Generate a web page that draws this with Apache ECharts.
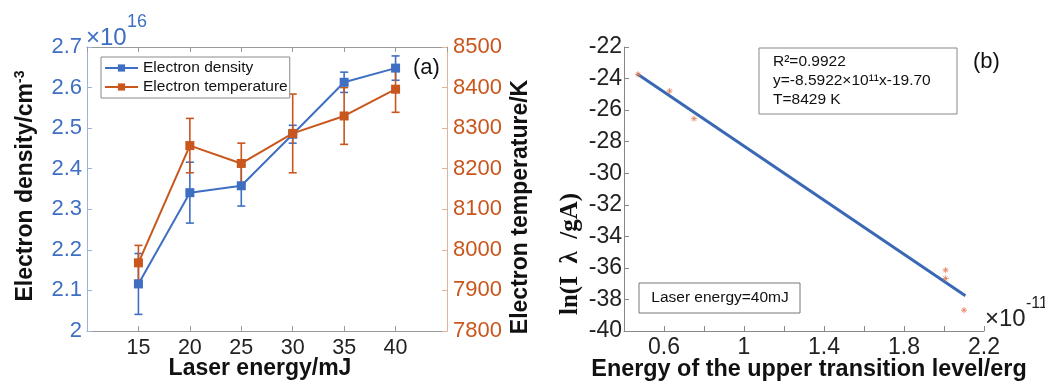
<!DOCTYPE html>
<html>
<head>
<meta charset="utf-8">
<script src="https://cdn.jsdelivr.net/npm/echarts@6/dist/echarts.min.js"></script>
<style>html,body{margin:0;padding:0;background:#fff}#c{width:1045px;height:381px}</style>
</head>
<body>
<div id="c"></div>
<script>
// Panel (a)
const energies = [15, 20, 25, 30, 35, 40];
const density = [2.116, 2.341, 2.358, 2.485, 2.613, 2.648];      // ×10^16 cm^-3
const densityErr = [0.075, 0.075, 0.05, 0.022, 0.025, 0.03];
const temperature = [7968, 8257, 8213, 8287, 8330, 8396];       // K
const temperatureErr = [43, 67, 50, 97, 70, 57];
// Panel (b)
const upperEnergy = [0.47, 0.628, 0.75, 2.008, 2.008, 2.10];      // ×10^-11 erg
const lnIntensity = [-23.73, -24.79, -26.54, -36.14, -36.67, -38.68];
const fitX = [0.465, 2.107];
const fitY = [-23.70, -37.76];

const BLUE = '#3F6FC3';
const ORANGE = '#C9561C';
const FONT = 'Liberation Sans, Arial, sans-serif';

function errItem(color) {
  return function (params, api) {
    const x = api.value(0), lo = api.value(1), hi = api.value(2);
    const a = api.coord([x, hi]), b = api.coord([x, lo]);
    const w = 4;
    const st = { stroke: color, lineWidth: 1.6 };
    return { type: 'group', children: [
      { type: 'line', shape: { x1: a[0], y1: a[1], x2: b[0], y2: b[1] }, style: st },
      { type: 'line', shape: { x1: a[0] - w, y1: a[1], x2: a[0] + w, y2: a[1] }, style: st },
      { type: 'line', shape: { x1: b[0] - w, y1: b[1], x2: b[0] + w, y2: b[1] }, style: st }
    ]};
  };
}

const densityErrData = energies.map((e, i) => [e, density[i] - densityErr[i], density[i] + densityErr[i]]);
const tempErrData = energies.map((e, i) => [e, temperature[i] - temperatureErr[i], temperature[i] + temperatureErr[i]]);

const chart = echarts.init(document.getElementById('c'), null, { renderer: 'canvas' });
const tickInside = (c) => ({ show: true, inside: true, length: 5, lineStyle: { color: c, width: 1 } });

chart.setOption({
  animation: false,
  backgroundColor: '#fff',
  textStyle: { fontFamily: FONT },
  grid: [
    { left: 87, top: 47, width: 360, height: 284 },
    { left: 624, top: 47, width: 360, height: 284 }
  ],
  legend: {
    data: ['Electron density', 'Electron temperature'],
    orient: 'vertical', left: 101, top: 57,
    itemWidth: 33, itemHeight: 9, itemGap: 3,
    padding: [3, 2, 3, 3],
    borderColor: '#8a8a8a', borderWidth: 1, backgroundColor: '#fff',
    textStyle: { fontFamily: FONT, fontSize: 15.5, color: '#111' }
  },
  xAxis: [
    { gridIndex: 0, type: 'value', min: 10, max: 45, interval: 5, position: 'bottom',
      axisLine: { lineStyle: { color: '#9a9a9a' } }, axisTick: tickInside('#9a9a9a'),
      axisLabel: { color: '#222', fontSize: 21.5, fontFamily: FONT, margin: 6, showMinLabel: false, showMaxLabel: false },
      splitLine: { show: false } },
    { gridIndex: 0, type: 'value', min: 10, max: 45, interval: 5, position: 'top',
      axisLine: { lineStyle: { color: '#9a9a9a' } }, axisTick: tickInside('#9a9a9a'),
      axisLabel: { show: false }, splitLine: { show: false } },
    { gridIndex: 1, type: 'value', min: 0.4, max: 2.2, interval: 0.2, position: 'bottom',
      axisLine: { lineStyle: { color: '#888' } }, axisTick: tickInside('#888'),
      axisLabel: { color: '#222', fontSize: 23, fontFamily: FONT, margin: 5,
        formatter: v => { const k = Math.round(v * 10); return (k % 4 === 2) ? String(k / 10) : ''; } },
      splitLine: { show: false } }
  ],
  yAxis: [
    { gridIndex: 0, type: 'value', min: 2.0, max: 2.7, interval: 0.1, position: 'left',
      axisLine: { show: true, lineStyle: { color: '#9bb2dd' } }, axisTick: tickInside('#9bb2dd'),
      axisLabel: { color: BLUE, fontSize: 22, fontFamily: FONT, margin: 5,
        formatter: v => Math.abs(v - 2) < 1e-9 ? '2' : v.toFixed(1) },
      splitLine: { show: false } },
    { gridIndex: 0, type: 'value', min: 7800, max: 8500, interval: 100, position: 'right',
      axisLine: { show: true, lineStyle: { color: '#e0b39b' } }, axisTick: tickInside('#e0b39b'),
      axisLabel: { color: ORANGE, fontSize: 22, fontFamily: FONT, margin: 6, formatter: v => String(v) },
      splitLine: { show: false } },
    { gridIndex: 1, type: 'value', min: -40, max: -22, interval: 2, position: 'left',
      axisLine: { show: true, lineStyle: { color: '#888' } }, axisTick: tickInside('#888'),
      axisLabel: { color: '#222', fontSize: 23, fontFamily: FONT, margin: 2, formatter: v => String(v) },
      splitLine: { show: false } }
  ],
  series: [
    { type: 'custom', name: 'densityErr', xAxisIndex: 0, yAxisIndex: 0, data: densityErrData,
      renderItem: errItem(BLUE), z: 3, silent: true },
    { type: 'custom', name: 'tempErr', xAxisIndex: 0, yAxisIndex: 1, data: tempErrData,
      renderItem: errItem(ORANGE), z: 3, silent: true },
    { type: 'line', name: 'Electron density', xAxisIndex: 0, yAxisIndex: 0,
      data: energies.map((e, i) => [e, density[i]]),
      symbol: 'rect', symbolSize: 9, color: BLUE, lineStyle: { width: 2, color: BLUE },
      itemStyle: { color: BLUE }, z: 4 },
    { type: 'line', name: 'Electron temperature', xAxisIndex: 0, yAxisIndex: 1,
      data: energies.map((e, i) => [e, temperature[i]]),
      symbol: 'rect', symbolSize: 9, color: ORANGE, lineStyle: { width: 2, color: ORANGE },
      itemStyle: { color: ORANGE }, z: 4 },
    { type: 'line', name: 'fit', xAxisIndex: 2, yAxisIndex: 2,
      data: fitX.map((x, i) => [x, fitY[i]]), symbol: 'none',
      lineStyle: { width: 3, color: '#3A68B4' }, z: 3 },
    { type: 'scatter', name: 'points', xAxisIndex: 2, yAxisIndex: 2,
      data: upperEnergy.map((x, i) => [x, lnIntensity[i]]),
      symbol: 'path://M5,0L5,10M0,5L10,5M1.5,1.5L8.5,8.5M8.5,1.5L1.5,8.5', symbolSize: 6,
      itemStyle: { color: 'rgba(0,0,0,0)', borderColor: '#E37B55', borderWidth: 1 }, z: 4 }
  ],
  graphic: [
    // panel (a) texts
    { type: 'text', x: 86, y: 38, style: { text: '\u00d710', font: '24px ' + FONT, fill: BLUE, textAlign: 'left', textVerticalAlign: 'middle' } },
    { type: 'text', x: 127, y: 22, style: { text: '16', font: '18px ' + FONT, fill: BLUE, textAlign: 'left', textVerticalAlign: 'middle' } },
    { type: 'text', x: 413, y: 68, style: { text: '(a)', font: '22px ' + FONT, fill: '#111', textAlign: 'left', textVerticalAlign: 'middle' } },
    { type: 'text', x: 26, y: 186, rotation: Math.PI / 2,
      style: { text: '{b|Electron density/cm}{s|-3}', textAlign: 'center', textVerticalAlign: 'middle',
        rich: { b: { font: 'bold 23px ' + FONT, fill: '#111' }, s: { font: 'bold 14px ' + FONT, fill: '#111', verticalAlign: 'top', padding: [0, 0, 12, 0] } } } },
    { type: 'text', x: 521, y: 207, rotation: Math.PI / 2,
      style: { text: 'Electron temperature/K', font: 'bold 23px ' + FONT, fill: '#111', textAlign: 'center', textVerticalAlign: 'middle' } },
    { type: 'text', x: 260, y: 369, style: { text: 'Laser energy/mJ', font: 'bold 23px ' + FONT, fill: '#111', textAlign: 'center', textVerticalAlign: 'middle' } },
    // panel (b) texts
    { type: 'rect', shape: { x: 759, y: 48, width: 198, height: 66 }, style: { fill: '#fff', stroke: '#888', lineWidth: 1 }, z: 10 },
    { type: 'text', x: 773, y: 62, z: 11, style: { text: 'R\u00b2=0.9922', font: '15.5px ' + FONT, fill: '#111', textVerticalAlign: 'middle' } },
    { type: 'text', x: 773, y: 81, z: 11, style: { text: 'y=-8.5922\u00d710\u00b9\u00b9x-19.70', font: '15.5px ' + FONT, fill: '#111', textVerticalAlign: 'middle' } },
    { type: 'text', x: 773, y: 100, z: 11, style: { text: 'T=8429 K', font: '15.5px ' + FONT, fill: '#111', textVerticalAlign: 'middle' } },
    { type: 'text', x: 973, y: 62, style: { text: '(b)', font: '22px ' + FONT, fill: '#111', textVerticalAlign: 'middle' } },
    { type: 'rect', shape: { x: 639, y: 283, width: 161, height: 30 }, style: { fill: '#fff', stroke: '#777', lineWidth: 1 }, z: 10 },
    { type: 'text', x: 720, y: 298, z: 11, style: { text: 'Laser energy=40mJ', font: '15.5px ' + FONT, fill: '#111', textAlign: 'center', textVerticalAlign: 'middle' } },
    { type: 'text', x: 985, y: 319, style: { text: '\u00d710', font: '24px ' + FONT, fill: '#222', textVerticalAlign: 'middle' } },
    { type: 'text', x: 1026, y: 304, style: { text: '-11', font: '16px ' + FONT, fill: '#222', textVerticalAlign: 'middle' } },
    { type: 'text', x: 571, y: 254, rotation: Math.PI / 2,
      style: { text: 'ln(I  \u03bb  /gA)', font: 'bold 25px Liberation Serif, Times New Roman, serif', fill: '#111', textAlign: 'center', textVerticalAlign: 'middle' } },
    { type: 'text', x: 809, y: 370, style: { text: 'Energy of the upper transition level/erg', font: 'bold 23.4px ' + FONT, fill: '#111', textAlign: 'center', textVerticalAlign: 'middle' } }
  ]
});
</script>
</body>
</html>
